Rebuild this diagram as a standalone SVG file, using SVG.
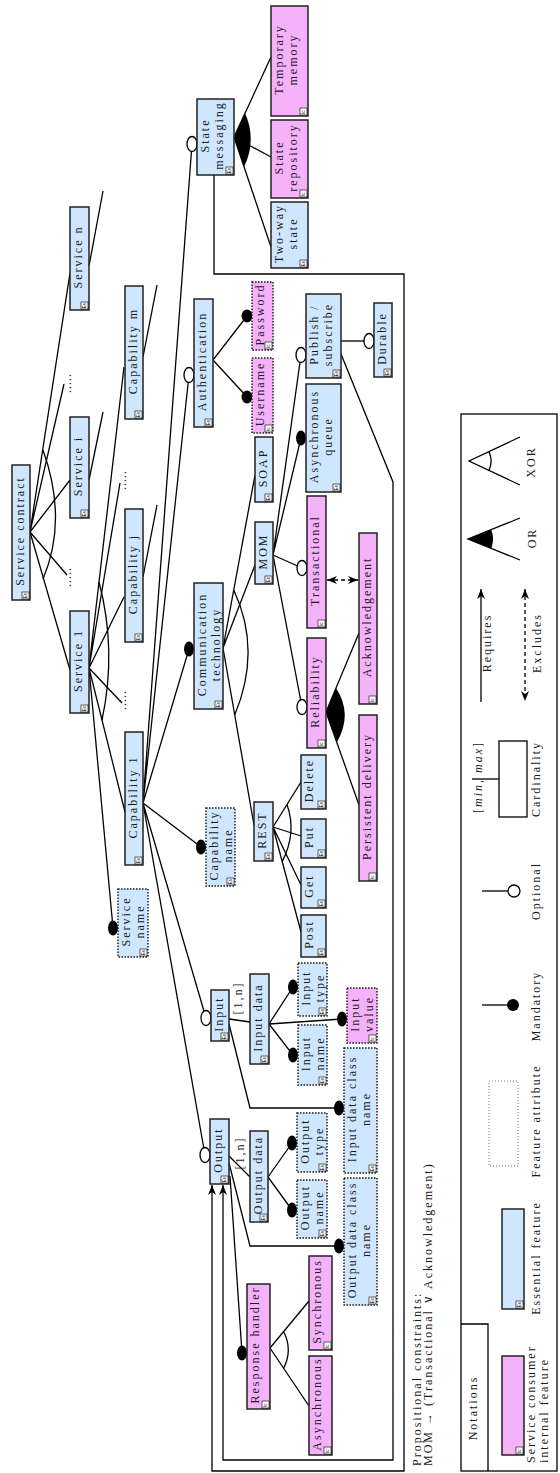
<svg xmlns="http://www.w3.org/2000/svg" xmlns:xlink="http://www.w3.org/1999/xlink" width="560" height="1473" viewBox="0 0 560 1473">
<style>
.ln{fill:none;stroke:#000;stroke-width:1.3}
.bx{stroke:#222;stroke-width:1.5}
.blue{fill:#cfe6ff}
.pink{fill:#f5b2fa}
.dot{stroke-dasharray:1.6 1.4}
.t{font-family:"Liberation Serif","DejaVu Serif",serif;font-size:12px;letter-spacing:2px;fill:#1a1a1a;text-anchor:middle}
.s{text-anchor:start}
.man{fill:#000}
.opt{fill:#fff;stroke:#000;stroke-width:1.3}
.dash{stroke-dasharray:4 3}
.ic{font-family:"Liberation Sans",sans-serif;font-size:4.6px;fill:#000}
</style>
<defs>
<marker id="ah" viewBox="0 0 10 8" refX="10" refY="4" markerWidth="10" markerHeight="8" markerUnits="userSpaceOnUse" orient="auto-start-reverse"><path d="M0,0 L10,4 L0,8 L3,4 Z" fill="#000"/></marker>
<g id="es"><rect width="7" height="7" fill="#fff" stroke="#000" stroke-width="0.6"/><text class="ic" transform="translate(5.4,6.3) rotate(-90)">Es</text></g>
<g id="ic"><rect width="7" height="7" fill="#fff" stroke="#000" stroke-width="0.6"/><text class="ic" transform="translate(5.4,6.0) rotate(-90)">Ic</text></g>
</defs>
<rect width="560" height="1473" fill="#fff"/>

<g id="connectors">
<!-- Service contract -->
<path class="ln" d="M30,532 L70,273 M30,532 L64,384 M30,532 L70,480 M30,532 L67,575 M30,532 L70,670"/>
<path class="ln" d="M43,450 Q68,520 43,579"/>
<path class="ln" d="M89,266 L103,191 M89,480 L103,412"/>
<!-- Service 1 -->
<path class="ln" d="M89,668 L124,367 M89,668 L120,483 M89,668 L124,597 M89,668 L122,703 M89,668 L125,812 M89,668 L113,928"/>
<path class="ln" d="M99,582 Q117,650 102,720"/>
<path class="ln" d="M143,357 L157,285 M143,577 L157,505"/>
<!-- Capability 1 -->
<path class="ln" d="M143,803 L192,144 M143,803 L189,375 M143,803 L189,649 M143,803 L201,847 M143,803 L206,1018 M143,803 L205,1155"/>
<!-- State messaging -->
<path class="ln" d="M234,137 L271,57 M234,137 L271,157 M234,137 L271,247"/>
<path d="M234,137 L245,113 Q257,140 244,167 Z" fill="#000"/>
<!-- Authentication -->
<path class="ln" d="M213,360 L247,316 M213,360 L247,397"/>
<!-- Communication technology -->
<path class="ln" d="M223,648 L255,475 M223,648 L255,565 M223,648 L254,825"/>
<path class="ln" d="M233.7,590 Q262,650 234.7,715"/>
<!-- MOM -->
<path class="ln" d="M273,555 L301,355 M273,555 L301,438 M273,555 L302,568 M273,555 L302,707"/>
<path class="ln" d="M341,341 L369,341"/>
<!-- Reliability -->
<path class="ln" d="M326,712 L359,633 M326,712 L359,805"/>
<path d="M326,712 L336,688 Q353,714 337,742 Z" fill="#000"/>
<!-- excludes -->
<path class="ln dash" d="M327,580 L358,580" marker-start="url(#ah)" marker-end="url(#ah)"/>
<!-- REST -->
<path class="ln" d="M273,827 L301,782 M273,827 L301,836 M273,827 L301,885 M273,827 L301,932"/>
<path class="ln" d="M287,804.5 Q297,833 282.2,861.6"/>
<!-- Input -->
<path class="ln" d="M229,1019 L250,1022 M229,1024 L250,1108 L339,1108"/>
<path class="ln" d="M269,1024 L293,987 M269,1024 L293,1055 M269,1024 L342,1019"/>
<!-- Output -->
<path class="ln" d="M229,1156 L250,1177 M229,1163 L250,1246 L339,1246 M230,1176 L242,1353"/>
<path class="ln" d="M268,1177 L292,1143 M268,1177 L292,1210"/>
<!-- Response handler -->
<path class="ln" d="M270,1348 L309,1301 M270,1348 L309,1406"/>
<path class="ln" d="M283.6,1331.5 Q293,1350 283.6,1368.3"/>
<!-- requires frames -->
<path class="ln" d="M214,175 L214,274 L404,274 L404,1471 L212,1471 L212,1185" marker-end="url(#ah)"/>
<path class="ln" d="M341,354 L393,482 L393,1460 L223,1460 L223,1185" marker-end="url(#ah)"/>
<!-- cardinality labels -->
<text class="t" transform="translate(242,998) rotate(-90)">[1,n]</text>
<text class="t" transform="translate(244,1153) rotate(-90)">[1,n]</text>
<!-- ellipsis -->
<text class="t" style="letter-spacing:1px" transform="translate(71,383) rotate(-90)">.....</text>
<text class="t" style="letter-spacing:1px" transform="translate(71,577) rotate(-90)">.....</text>
<text class="t" style="letter-spacing:1px" transform="translate(126,480) rotate(-90)">.....</text>
<text class="t" style="letter-spacing:1px" transform="translate(126,700) rotate(-90)">.....</text>
<!-- optional -->
<ellipse class="opt" cx="192" cy="144" rx="5" ry="7.5"/>
<ellipse class="opt" cx="189" cy="375" rx="5" ry="7.5"/>
<ellipse class="opt" cx="206" cy="1018" rx="5" ry="7.5"/>
<ellipse class="opt" cx="205" cy="1155" rx="5" ry="7.5"/>
<ellipse class="opt" cx="301" cy="355" rx="5" ry="7.5"/>
<ellipse class="opt" cx="302" cy="568" rx="5" ry="7.5"/>
<ellipse class="opt" cx="302" cy="707" rx="5" ry="7.5"/>
<ellipse class="opt" cx="369" cy="341" rx="5" ry="7.5"/>
<!-- mandatory -->
<ellipse class="man" cx="113" cy="928" rx="5" ry="7.5"/>
<ellipse class="man" cx="189" cy="649" rx="5" ry="7.5"/>
<ellipse class="man" cx="201" cy="847" rx="5" ry="7.5"/>
<ellipse class="man" cx="247" cy="316" rx="5.5" ry="6.5"/>
<ellipse class="man" cx="247" cy="397" rx="5.5" ry="6.5"/>
<ellipse class="man" cx="301" cy="438" rx="5" ry="7.5"/>
<ellipse class="man" cx="293" cy="987" rx="5" ry="7.5"/>
<ellipse class="man" cx="293" cy="1055" rx="5" ry="7.5"/>
<ellipse class="man" cx="342" cy="1019" rx="5" ry="7.5"/>
<ellipse class="man" cx="339" cy="1108" rx="5" ry="7.5"/>
<ellipse class="man" cx="292" cy="1143" rx="5" ry="7.5"/>
<ellipse class="man" cx="292" cy="1210" rx="5" ry="7.5"/>
<ellipse class="man" cx="339" cy="1246" rx="5" ry="7.5"/>
<ellipse class="man" cx="242" cy="1353" rx="5" ry="7.5"/>
</g>

<g id="n-service-contract"><rect class="bx blue" x="12" y="465" width="18" height="135"/><text class="t" transform="translate(23.5,531) rotate(-90)">Service contract</text><use href="#es" x="22" y="592"/></g>
<g id="n-service-n"><rect class="bx blue" x="70" y="207" width="19" height="103"/><text class="t" transform="translate(81.5,257) rotate(-90)">Service n</text><use href="#es" x="81" y="302"/></g>
<g id="n-service-i"><rect class="bx blue" x="70" y="417" width="19" height="101"/><text class="t" transform="translate(81.5,466) rotate(-90)">Service i</text><use href="#es" x="81" y="510"/></g>
<g id="n-service-1"><rect class="bx blue" x="70" y="611" width="19" height="102"/><text class="t" transform="translate(81.5,660.5) rotate(-90)">Service 1</text><use href="#es" x="81" y="705"/></g>
<g id="n-capability-m"><rect class="bx blue" x="125" y="286" width="18" height="133"/><text class="t" transform="translate(136.5,351) rotate(-90)">Capability m</text><use href="#es" x="135" y="411"/></g>
<g id="n-capability-j"><rect class="bx blue" x="125" y="509" width="18" height="133"/><text class="t" transform="translate(136.5,574) rotate(-90)">Capability j</text><use href="#es" x="135" y="634"/></g>
<g id="n-capability-1"><rect class="bx blue" x="125" y="732" width="18" height="133"/><text class="t" transform="translate(136.5,797) rotate(-90)">Capability 1</text><use href="#es" x="135" y="857"/></g>
<g id="n-service-name"><rect class="bx blue dot" x="118" y="889" width="30" height="68"/><text class="t" transform="translate(130,921.5) rotate(-90)"><tspan x="0" y="0">Service</tspan><tspan x="0" y="13.5">name</tspan></text><use href="#es" x="140" y="949"/></g>
<g id="n-capability-name"><rect class="bx blue dot" x="206" y="808" width="29" height="78"/><text class="t" transform="translate(218,845.5) rotate(-90)"><tspan x="0" y="0">Capability</tspan><tspan x="0" y="13.5">name</tspan></text><use href="#es" x="227" y="878"/></g>
<g id="n-state-messaging"><rect class="bx blue" x="197" y="99" width="37" height="76"/><text class="t" transform="translate(209,135.5) rotate(-90)"><tspan x="0" y="0">State</tspan><tspan x="0" y="13.5">messaging</tspan></text><use href="#es" x="226" y="167"/></g>
<g id="n-authentication"><rect class="bx blue" x="194" y="299" width="19" height="128"/><text class="t" transform="translate(205.5,361.5) rotate(-90)">Authentication</text><use href="#es" x="205" y="419"/></g>
<g id="n-communication"><rect class="bx blue" x="194" y="583" width="29" height="126"/><text class="t" transform="translate(206,644.5) rotate(-90)"><tspan x="0" y="0">Communication</tspan><tspan x="0" y="13.5">technology</tspan></text><use href="#es" x="215" y="701"/></g>
<g id="n-input"><rect class="bx blue" x="211" y="990" width="18" height="51"/><text class="t" transform="translate(222.5,1014) rotate(-90)">Input</text><use href="#es" x="221" y="1033"/></g>
<g id="n-output"><rect class="bx blue" x="210" y="1119" width="19" height="65"/><text class="t" transform="translate(221.5,1150) rotate(-90)">Output</text><use href="#es" x="221" y="1176"/></g>
<g id="n-temporary-memory"><rect class="bx pink" x="271" y="6" width="37" height="110"/><text class="t" transform="translate(283,59.5) rotate(-90)"><tspan x="0" y="0">Temporary</tspan><tspan x="0" y="13.5">memory</tspan></text><use href="#ic" x="300" y="108"/></g>
<g id="n-state-repository"><rect class="bx pink" x="271" y="120" width="37" height="78"/><text class="t" transform="translate(283,157.5) rotate(-90)"><tspan x="0" y="0">State</tspan><tspan x="0" y="13.5">repository</tspan></text><use href="#ic" x="300" y="190"/></g>
<g id="n-two-way-state"><rect class="bx blue" x="271" y="202" width="37" height="66"/><text class="t" transform="translate(283,233.5) rotate(-90)"><tspan x="0" y="0">Two-way</tspan><tspan x="0" y="13.5">state</tspan></text><use href="#es" x="300" y="260"/></g>
<g id="n-password"><rect class="bx pink dot" x="252" y="282" width="21" height="68"/><text class="t" transform="translate(263.5,314.5) rotate(-90)">Password</text><use href="#ic" x="265" y="342"/></g>
<g id="n-username"><rect class="bx pink dot" x="252" y="358" width="21" height="75"/><text class="t" transform="translate(263.5,394) rotate(-90)">Username</text><use href="#ic" x="265" y="425"/></g>
<g id="n-soap"><rect class="bx blue" x="255" y="437" width="18" height="65"/><text class="t" transform="translate(266.5,468) rotate(-90)">SOAP</text><use href="#es" x="265" y="494"/></g>
<g id="n-mom"><rect class="bx blue" x="255" y="522" width="18" height="62"/><text class="t" transform="translate(266.5,551.5) rotate(-90)">MOM</text><use href="#es" x="265" y="576"/></g>
<g id="n-rest"><rect class="bx blue" x="254" y="802" width="19" height="59"/><text class="t" transform="translate(265.5,830) rotate(-90)">REST</text><use href="#es" x="265" y="853"/></g>
<g id="n-input-data"><rect class="bx blue" x="250" y="974" width="19" height="90"/><text class="t" transform="translate(261.5,1017.5) rotate(-90)">Input data</text><use href="#es" x="261" y="1056"/></g>
<g id="n-output-data"><rect class="bx blue" x="250" y="1131" width="18" height="91"/><text class="t" transform="translate(261.5,1175) rotate(-90)">Output data</text><use href="#es" x="260" y="1214"/></g>
<g id="n-response-handler"><rect class="bx pink" x="247" y="1284" width="23" height="125"/><text class="t" transform="translate(258.5,1345) rotate(-90)">Response handler</text><use href="#ic" x="262" y="1401"/></g>
<g id="n-publish-subscribe"><rect class="bx blue" x="306" y="294" width="35" height="84"/><text class="t" transform="translate(318,334.5) rotate(-90)"><tspan x="0" y="0">Publish /</tspan><tspan x="0" y="13.5">subscribe</tspan></text><use href="#es" x="333" y="370"/></g>
<g id="n-asynchronous-queue"><rect class="bx blue" x="306" y="384" width="35" height="108"/><text class="t" transform="translate(318,436.5) rotate(-90)"><tspan x="0" y="0">Asynchronous</tspan><tspan x="0" y="13.5">queue</tspan></text><use href="#es" x="333" y="484"/></g>
<g id="n-transactional"><rect class="bx pink" x="307" y="496" width="19" height="132"/><text class="t" transform="translate(318.5,560.5) rotate(-90)">Transactional</text><use href="#ic" x="318" y="620"/></g>
<g id="n-reliability"><rect class="bx pink" x="307" y="638" width="19" height="110"/><text class="t" transform="translate(318.5,691.5) rotate(-90)">Reliability</text><use href="#ic" x="318" y="740"/></g>
<g id="n-post"><rect class="bx blue" x="301" y="915" width="25" height="42"/><text class="t" transform="translate(312.5,934.5) rotate(-90)">Post</text><use href="#es" x="318" y="949"/></g>
<g id="n-get"><rect class="bx blue" x="301" y="867" width="25" height="41"/><text class="t" transform="translate(312.5,886) rotate(-90)">Get</text><use href="#es" x="318" y="900"/></g>
<g id="n-put"><rect class="bx blue" x="301" y="819" width="25" height="39"/><text class="t" transform="translate(312.5,837) rotate(-90)">Put</text><use href="#es" x="318" y="850"/></g>
<g id="n-delete"><rect class="bx blue" x="301" y="755" width="25" height="54"/><text class="t" transform="translate(312.5,780.5) rotate(-90)">Delete</text><use href="#es" x="318" y="801"/></g>
<g id="n-input-type"><rect class="bx blue dot" x="298" y="963" width="29" height="53"/><text class="t" transform="translate(310,988) rotate(-90)"><tspan x="0" y="0">Input</tspan><tspan x="0" y="13.5">type</tspan></text><use href="#es" x="319" y="1008"/></g>
<g id="n-input-name"><rect class="bx blue dot" x="298" y="1025" width="29" height="60"/><text class="t" transform="translate(310,1053.5) rotate(-90)"><tspan x="0" y="0">Input</tspan><tspan x="0" y="13.5">name</tspan></text><use href="#es" x="319" y="1077"/></g>
<g id="n-output-type"><rect class="bx blue dot" x="297" y="1113" width="30" height="59"/><text class="t" transform="translate(309,1141) rotate(-90)"><tspan x="0" y="0">Output</tspan><tspan x="0" y="13.5">type</tspan></text><use href="#es" x="319" y="1164"/></g>
<g id="n-output-name"><rect class="bx blue dot" x="297" y="1180" width="30" height="58"/><text class="t" transform="translate(309,1207.5) rotate(-90)"><tspan x="0" y="0">Output</tspan><tspan x="0" y="13.5">name</tspan></text><use href="#es" x="319" y="1230"/></g>
<g id="n-synchronous"><rect class="bx pink" x="309" y="1256" width="23" height="94"/><text class="t" transform="translate(320.5,1301.5) rotate(-90)">Synchronous</text><use href="#ic" x="324" y="1342"/></g>
<g id="n-asynchronous"><rect class="bx pink" x="309" y="1356" width="23" height="99"/><text class="t" transform="translate(320.5,1404) rotate(-90)">Asynchronous</text><use href="#ic" x="324" y="1447"/></g>
<g id="n-durable"><rect class="bx blue" x="374" y="303" width="18" height="74"/><text class="t" transform="translate(385.5,338.5) rotate(-90)">Durable</text><use href="#es" x="384" y="369"/></g>
<g id="n-acknowledgement"><rect class="bx pink" x="359" y="533" width="18" height="171"/><text class="t" transform="translate(370.5,617) rotate(-90)">Acknowledgement</text><use href="#ic" x="369" y="696"/></g>
<g id="n-persistent-delivery"><rect class="bx pink" x="359" y="715" width="18" height="166"/><text class="t" transform="translate(370.5,796.5) rotate(-90)">Persistent delivery</text><use href="#ic" x="369" y="873"/></g>
<g id="n-input-value"><rect class="bx pink dot" x="347" y="988" width="30" height="55"/><text class="t" transform="translate(359,1014) rotate(-90)"><tspan x="0" y="0">Input</tspan><tspan x="0" y="13.5">value</tspan></text><use href="#ic" x="369" y="1035"/></g>
<g id="n-input-data-class-name"><rect class="bx blue dot" x="344" y="1048" width="33" height="125"/><text class="t" transform="translate(356,1109) rotate(-90)"><tspan x="0" y="0">Input data class</tspan><tspan x="0" y="13.5">name</tspan></text><use href="#es" x="369" y="1165"/></g>
<g id="n-output-data-class-name"><rect class="bx blue dot" x="344" y="1178" width="33" height="127"/><text class="t" transform="translate(356,1240) rotate(-90)"><tspan x="0" y="0">Output data class</tspan><tspan x="0" y="13.5">name</tspan></text><use href="#es" x="369" y="1297"/></g>

<g id="constraints">
<text class="t s" transform="translate(421,1466) rotate(-90)">Propositional constraints:</text>
<text class="t s" transform="translate(432,1466) rotate(-90)">MOM → (Transactional ∨ Acknowledgement)</text>
</g>

<g id="legend">
<rect x="461" y="414" width="96" height="1057" fill="none" stroke="#000" stroke-width="1.3"/>
<path class="ln" d="M461,1324 L488,1324 L488,1471"/>
<text class="t" transform="translate(476.5,1408) rotate(-90)">Notations</text>
<rect class="bx pink" x="502" y="1356" width="22" height="99"/><use href="#ic" x="516" y="1447"/>
<text class="t s" transform="translate(535,1463) rotate(-90)">Service consumer</text>
<text class="t s" transform="translate(547.5,1463) rotate(-90)">internal feature</text>
<rect class="bx blue" x="502" y="1209" width="22" height="100"/><use href="#es" x="516" y="1301"/>
<text class="t" transform="translate(540,1258) rotate(-90)">Essential feature</text>
<rect x="489" y="1081" width="29" height="85" fill="none" stroke="#555" stroke-width="0.8" stroke-dasharray="1 2"/>
<text class="t" transform="translate(540,1121) rotate(-90)">Feature attribute</text>
<path class="ln" d="M482,1005 L508,1005"/><circle cx="513" cy="1005" r="6" fill="#000"/>
<text class="t" transform="translate(540,1006) rotate(-90)">Mandatory</text>
<path class="ln" d="M482,891 L508,891"/><circle class="opt" cx="514" cy="891" r="6"/>
<text class="t" transform="translate(540,891) rotate(-90)">Optional</text>
<path class="ln" d="M472,779 L499,779"/><rect x="499" y="741" width="28" height="76" fill="#fff" stroke="#000" stroke-width="1.3"/>
<text class="t" transform="translate(482,777) rotate(-90)">[<tspan font-style="italic">min</tspan>,  <tspan font-style="italic">max</tspan>]</text>
<text class="t" transform="translate(540,779) rotate(-90)">Cardinality</text>
<path class="ln dash" d="M525,589 L525,701" marker-start="url(#ah)" marker-end="url(#ah)"/>
<text class="t" transform="translate(541,643) rotate(-90)">Excludes</text>
<path class="ln" d="M481,702 L481,589" marker-end="url(#ah)"/>
<text class="t" transform="translate(491,643) rotate(-90)">Requires</text>
<path class="ln" d="M520,518 L468,539 L520,560"/>
<path d="M468,539 L491.2,529.6 A25,25 0 0 1 491.2,548.4 Z" fill="#000"/>
<text class="t" transform="translate(536,538) rotate(-90)">OR</text>
<path class="ln" d="M520,437 L469,461 L520,485"/>
<path class="ln" d="M488.9,451.6 A22,22 0 0 1 488.9,470.4"/>
<text class="t" transform="translate(535,462) rotate(-90)">XOR</text>
</g>
</svg>
